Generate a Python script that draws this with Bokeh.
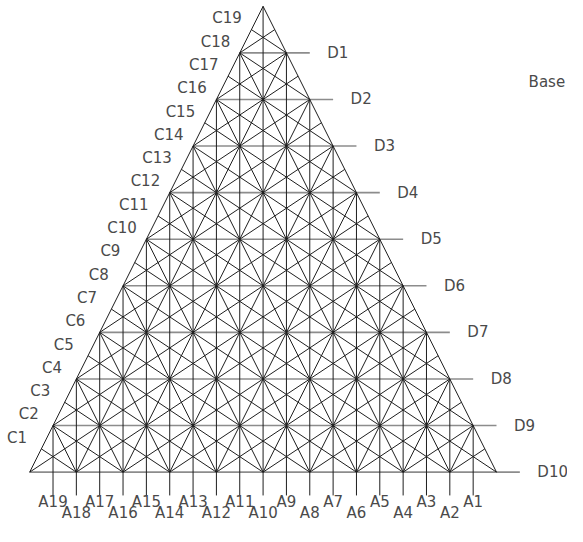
import numpy as np
from bokeh.plotting import figure
from bokeh.models import Range1d
from bokeh.core.properties import value
from bokeh.embed import file_html
from bokeh.resources import INLINE

# ---- data -------------------------------------------------------------
n_rows = 10                      # number of horizontal divisions of the triangle
a_labels = ["A1", "A2", "A3", "A4", "A5", "A6", "A7", "A8", "A9", "A10",
            "A11", "A12", "A13", "A14", "A15", "A16", "A17", "A18", "A19"]
c_labels = ["C1", "C2", "C3", "C4", "C5", "C6", "C7", "C8", "C9", "C10",
            "C11", "C12", "C13", "C14", "C15", "C16", "C17", "C18", "C19"]
d_labels = ["D1", "D2", "D3", "D4", "D5", "D6", "D7", "D8", "D9", "D10"]
title_text = "Base"

# ---- geometry (data units: node spacing = 2) ---------------------------
W = 2 * n_rows          # base width
H = 2 * n_rows          # height
apex = (W / 2, H)

# half-planes of the triangle: a*x + b*y <= c
halfplanes = [(0.0, -1.0, 0.0),          # y >= 0
              (-1.0, 0.5, 0.0),          # x >= 0.5 y   (left edge)
              (1.0, 0.5, float(W))]      # x + 0.5 y <= W (right edge)


def clip(p, d):
    t0, t1 = -1e9, 1e9
    for a, b, c in halfplanes:
        num = c - (a * p[0] + b * p[1])
        den = a * d[0] + b * d[1]
        if abs(den) < 1e-12:
            if num < 0:
                return None
            continue
        t = num / den
        if den > 0:
            t1 = min(t1, t)
        else:
            t0 = max(t0, t)
    if t1 - t0 < 1e-9:
        return None
    return ((p[0] + t0 * d[0], p[1] + t0 * d[1]),
            (p[0] + t1 * d[0], p[1] + t1 * d[1]))


black_xs, black_ys = [], []


def add(seg):
    if seg is None:
        return
    (x0, y0), (x1, y1) = seg
    black_xs.append([x0, x1])
    black_ys.append([y0, y1])


# triangle outline
black_xs.append([0, apex[0], W])
black_ys.append([0, apex[1], 0])

# lines parallel to the edges, through base nodes
for j in range(1, n_rows):
    add(clip((2 * j, 0), (1, 2)))
    add(clip((2 * j, 0), (-1, 2)))

# median directions (slope +-2/3) through lattice nodes
for c in range(-(2 * n_rows - 2), 2 * n_rows - 1, 2):
    add(clip((c, 0), (3, 2)))          # x - 1.5y = c
for c in range(2, 4 * n_rows - 1, 2):
    add(clip((c, 0), (-3, 2)))         # x + 1.5y = c

# vertical lines (A ticks), extended one unit below the base
for k in range(1, W):
    top = 2 * min(k, W - k)
    black_xs.append([k, k])
    black_ys.append([-1, top])

# horizontal lines (D), extended one unit beyond the right edge
gray_xs, gray_ys = [], []
for i in range(1, n_rows + 1):
    y = H - 2 * i
    gray_xs.append([W / 2 - i, W / 2 + i + 1])
    gray_ys.append([y, y])

# ---- figure -----------------------------------------------------------
fw, fh = 567, 526
u = 24.0                           # one data unit in reference pixels
p = figure(width=fw, height=fh, output_backend="svg", toolbar_location=None,
           x_axis_type=None, y_axis_type=None, min_border=0,
           x_range=Range1d(-30 / u, (583 - 30) / u),
           y_range=Range1d((486 - 542) / u, 486 / u))
p.outline_line_color = None
p.grid.visible = False
p.background_fill_color = "white"
p.border_fill_color = "white"

p.multi_line(gray_xs, gray_ys, line_color="#8c8c8c", line_width=1.6)
p.multi_line(black_xs, black_ys, line_color="#1e1e1e", line_width=1)

font = value("DejaVu Sans")
tcol = "#4a4a4a"
fs = "15px"

# A labels along the base (staggered)
ax = [W - k for k in range(1, len(a_labels) + 1)]
ay = [-1.27 if k % 2 == 1 else -1.77 for k in range(1, len(a_labels) + 1)]
p.text(x=ax, y=ay, text=a_labels, text_font=font, text_font_size=fs,
       text_color=tcol, text_align="center", text_baseline="middle")

# C labels along the left edge (offset along the outward normal)
cx = [k / 2 - 25 / u for k in range(1, len(c_labels) + 1)]
cy = [k + 11.5 / u for k in range(1, len(c_labels) + 1)]
p.text(x=cx, y=cy, text=c_labels, text_font=font, text_font_size=fs,
       text_color=tcol, text_align="center", text_baseline="middle")

# D labels at the right of the horizontal lines
dx = [W / 2 + i + 1 + 18 / u for i in range(1, len(d_labels) + 1)]
dy = [H - 2 * i for i in range(1, len(d_labels) + 1)]
p.text(x=dx, y=dy, text=d_labels, text_font=font, text_font_size=fs,
       text_color=tcol, text_align="left", text_baseline="middle")

p.text(x=[(543 - 30) / u], y=[(486 - 84) / u], text=[title_text],
       text_font=font, text_font_size=fs, text_color=tcol,
       text_align="left", text_baseline="middle")

open("out.html", "w").write(file_html(p, INLINE))
